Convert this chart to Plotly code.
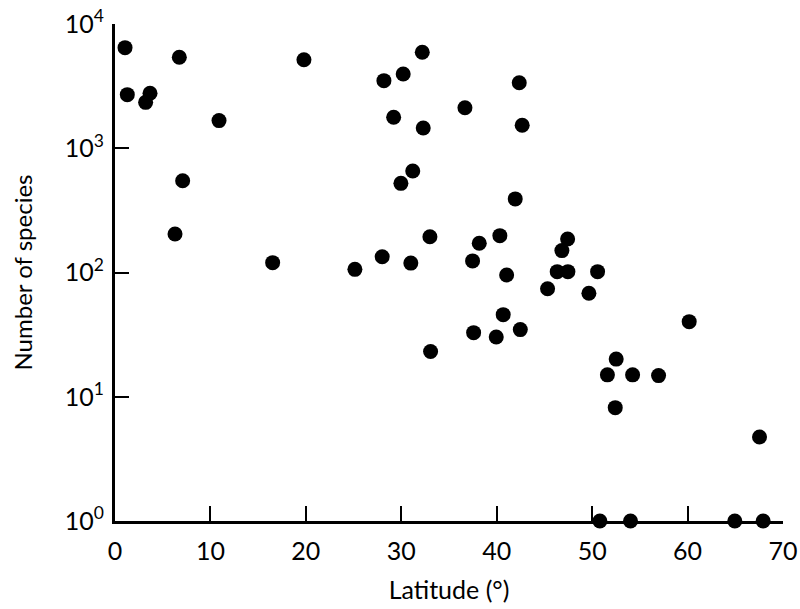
import plotly.graph_objects as go

latitude = [1.05, 1.29, 3.67, 3.21, 6.74, 10.9, 7.09, 6.29, 16.52, 19.8,
            28.18, 30.2, 32.2, 29.2, 32.3, 31.2, 29.96, 33.0, 28.0, 31.0, 25.14,
            42.36, 36.67, 42.67, 41.94, 40.33, 38.17, 37.47, 41.04,
            47.43, 46.83, 46.34, 47.46, 45.33, 50.57, 49.66,
            40.68, 37.58, 39.95, 42.47, 33.07,
            60.17, 52.52, 51.6, 54.24, 56.96, 52.42, 67.54,
            50.81, 54.02, 64.95, 67.92]
species = [6450, 2700, 2770, 2340, 5400, 1670, 548, 204, 120, 5160,
           3500, 3960, 5920, 1775, 1455, 656, 522, 194, 134, 119, 106,
           3370, 2120, 1530, 391, 198, 172, 124, 95.5,
           186, 150, 101.6, 101.6, 74, 101.6, 68,
           45.8, 32.8, 30.3, 34.7, 23.1,
           40.2, 20.1, 15, 15, 14.8, 8.17, 4.74,
           1, 1, 1, 1]

x_ticks = [0, 10, 20, 30, 40, 50, 60, 70]
y_ticks = [1, 10, 100, 1000, 10000]
y_ticktext = ["10<sup>0</sup>", "10<sup>1</sup>", "10<sup>2</sup>", "10<sup>3</sup>", "10<sup>4</sup>"]

FONT = "Lato"

fig = go.Figure()
fig.add_trace(go.Scatter(
    x=latitude, y=species, mode="markers",
    marker=dict(size=15, color="black", line=dict(width=0)),
    cliponaxis=False, showlegend=False,
))

fig.update_layout(
    width=800, height=609,
    margin=dict(l=115, r=17, t=24, b=88),
    paper_bgcolor="white", plot_bgcolor="white",
    font=dict(family=FONT, size=25, color="black"),
)
fig.update_xaxes(
    range=[0, 70], tickvals=x_ticks, ticks="inside", ticklen=15, tickwidth=1.5,
    tickcolor="black", showline=True, linecolor="black", linewidth=3,
    showgrid=False, zeroline=False, ticklabelstandoff=6, automargin=False,
    ticklabeloverflow="allow",
    tickfont=dict(size=25),
    title=dict(text="Latitude (°)", font=dict(size=25), standoff=18),
)
fig.update_yaxes(
    type="log", range=[0, 4], tickvals=y_ticks, ticktext=y_ticktext,
    ticks="inside", ticklen=14, tickwidth=1.5, tickcolor="black",
    showline=True, linecolor="black", linewidth=3,
    showgrid=False, zeroline=False, ticklabelstandoff=3, automargin=False,
    ticklabeloverflow="allow",
    tickfont=dict(size=25),
    title=dict(text="Number of species", font=dict(size=24), standoff=26),
)

fig.write_html(
    "out.html",
    config={"displayModeBar": False},
    post_script="document.body.style.margin='0';document.body.style.overflow='hidden';",
)
